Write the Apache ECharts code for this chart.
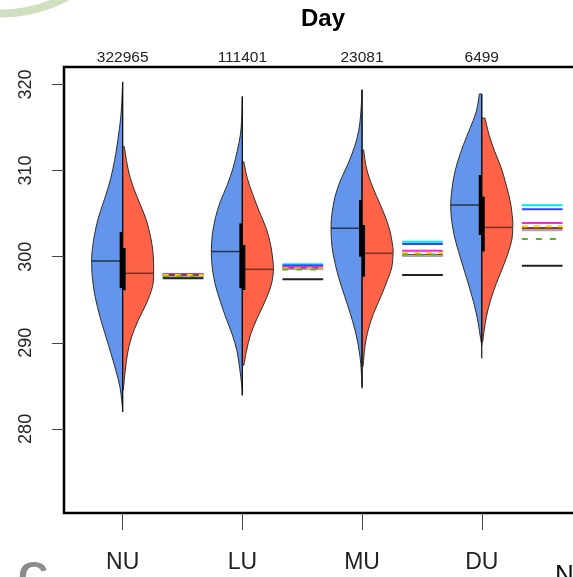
<!DOCTYPE html>
<html><head><meta charset="utf-8">
<script src="https://cdn.jsdelivr.net/npm/echarts@6/dist/echarts.min.js"></script>
<style>html,body{margin:0;padding:0;background:#fff}#c{width:573px;height:577px}</style>
</head><body><div id="c"></div><script>
// ---------- data ----------
const categories = ['NU', 'LU', 'MU', 'DU'];
const counts = ['322965', '111401', '23081', '6499'];
const yTicks = [280, 290, 300, 310, 320];

// violin outlines: [value, relative half-width]
const blueNU = [[320.3,0],[317.8,0.03],[315.9,0.07],[313.9,0.14],[312.0,0.22],[310.1,0.32],[308.1,0.46],[306.2,0.63],[304.3,0.8],[302.3,0.92],[300.4,0.99],[299.2,1.0],[297.7,0.98],[295.4,0.89],[293.0,0.73],[290.7,0.54],[288.8,0.38],[286.8,0.22],[284.9,0.09],[283.0,0.02],[282.0,0]];
const redNU = [[312.8,0.05],[310.1,0.18],[308.1,0.34],[306.2,0.55],[304.3,0.76],[302.3,0.9],[300.4,0.98],[298.1,1.0],[296.5,0.96],[294.6,0.77],[292.6,0.5],[290.7,0.29],[288.8,0.16],[286.8,0.085],[284.5,0.02]];
const blueLU = [[318.6,0],[316.1,0.02],[314.1,0.065],[312.2,0.17],[310.3,0.3],[308.3,0.49],[306.4,0.71],[304.5,0.87],[302.5,0.97],[300.6,1.0],[298.7,0.97],[296.7,0.87],[294.8,0.71],[292.8,0.52],[290.9,0.32],[289.0,0.17],[287.0,0.086],[285.1,0.02],[283.9,0]];
const redLU = [[311.0,0.05],[309.1,0.16],[307.2,0.34],[305.2,0.55],[303.3,0.77],[301.4,0.91],[299.4,0.99],[298.3,1.0],[296.7,0.93],[294.8,0.73],[292.8,0.47],[290.9,0.26],[289.0,0.13],[287.4,0.05]];
const blueMU = [[319.4,0],[316.7,0.04],[314.7,0.105],[312.8,0.24],[310.8,0.45],[308.9,0.69],[307.0,0.87],[305.0,0.97],[303.3,1.0],[301.2,0.97],[299.2,0.87],[297.3,0.73],[295.4,0.56],[293.4,0.38],[291.5,0.23],[289.6,0.116],[287.6,0.042],[285.7,0.01],[284.9,0]];
const redMU = [[312.4,0.05],[310.5,0.13],[308.9,0.255],[307.0,0.47],[305.0,0.71],[303.1,0.89],[301.2,0.99],[300.4,1.0],[298.8,0.96],[297.3,0.82],[295.4,0.61],[293.4,0.37],[291.5,0.2],[289.6,0.095],[287.2,0.03]];
const blueDU = [[318.9,0.075],[316.8,0.18],[314.9,0.38],[313.0,0.59],[311.0,0.78],[309.1,0.91],[307.2,0.98],[306.0,1.0],[304.5,0.98],[302.5,0.89],[300.6,0.75],[298.7,0.59],[296.7,0.42],[294.8,0.27],[292.8,0.14],[290.9,0.054],[289.7,0]];
const redDU = [[316.1,0.105],[314.1,0.24],[312.2,0.42],[310.3,0.63],[308.3,0.79],[306.4,0.92],[304.5,0.99],[303.3,1.0],[301.8,0.96],[299.8,0.79],[297.9,0.58],[295.9,0.37],[294.0,0.21],[292.1,0.105],[290.1,0.03]];

const blueMedians = [299.5, 300.6, 303.3, 306.0];
const redMedians = [298.07, 298.53, 300.39, 303.4];
const blueQ1 = [296.35, 296.33, 300.0, 302.52];
const blueQ3 = [302.85, 303.87, 306.6, 309.49];
const redQ1 = [296.1, 296.13, 297.68, 300.6];
const redQ3 = [301.0, 301.36, 303.68, 306.97];
const whiskerLow = [282.0, 283.9, 284.7, 288.2];
const whiskerHigh = [320.3, 318.6, 319.4, 318.9];

// reference lines beside each violin
const refCyan = [297.98, 299.12, 301.72, 305.98];
const refBlue = [297.95, 298.98, 301.48, 305.5];
const refMagenta = [297.92, 298.8, 300.68, 303.9];
const refBrown = [297.85, 298.6, 300.18, 303.3];
const refYellow = [297.88, 298.65, 300.42, 303.52];
const refGrey = [297.6, 298.55, 300.1, 303.05];
const refGreen = [297.7, 298.5, 300.25, 302.06];
const refBlack = [297.5, 297.38, 297.87, 298.95];

// ---------- drawing ----------
const FONT = "'Liberation Sans', Arial, sans-serif";
const MAXW = 0.259;
const blueProfiles = [blueNU, blueLU, blueMU, blueDU];
const redProfiles = [redNU, redLU, redMU, redDU];

function curve(pts) {
  let d = '';
  for (let i = 0; i < pts.length - 1; i++) {
    const p0 = pts[i - 1] || pts[i], p1 = pts[i], p2 = pts[i + 1], p3 = pts[i + 2] || p2;
    const c1 = [p1[0] + (p2[0] - p0[0]) / 6, p1[1] + (p2[1] - p0[1]) / 6];
    const c2 = [p2[0] - (p3[0] - p1[0]) / 6, p2[1] - (p3[1] - p1[1]) / 6];
    d += ` C${c1[0]},${c1[1]} ${c2[0]},${c2[1]} ${p2[0]},${p2[1]}`;
  }
  return d;
}
function widthAt(prof, v) {
  for (let i = 0; i < prof.length - 1; i++) {
    const a = prof[i], b = prof[i + 1];
    if (v <= a[0] && v >= b[0]) { const t = (a[0] - v) / (a[0] - b[0]); return a[1] + t * (b[1] - a[1]); }
  }
  return 0;
}
function halfViolin(api, cx, prof, side, fill) {
  const pts = prof.map(([v, w]) => api.coord([cx + side * w * MAXW, v]));
  const top = api.coord([cx, prof[0][0]]);
  const bot = api.coord([cx, prof[prof.length - 1][0]]);
  const d = `M${top[0]},${top[1]} L${pts[0][0]},${pts[0][1]}` + curve(pts) + ` L${bot[0]},${bot[1]} Z`;
  return { type: 'path', shape: { pathData: d }, style: { fill: fill, stroke: '#2b2b2b', lineWidth: 1 } };
}

function renderViolin(params, api) {
  const i = api.value(1);
  const cx = api.value(0);
  const children = [];
  children.push(halfViolin(api, cx, blueProfiles[i], -1, '#6495ED'));
  children.push(halfViolin(api, cx, redProfiles[i], 1, '#FF6347'));
  const bm = blueMedians[i], rm = redMedians[i];
  const bl = api.coord([cx - widthAt(blueProfiles[i], bm) * MAXW, bm]), bc = api.coord([cx, bm]);
  children.push({ type: 'line', shape: { x1: bl[0], y1: bl[1], x2: bc[0], y2: bc[1] }, style: { stroke: '#23334f', lineWidth: 1.5 } });
  const rr = api.coord([cx + widthAt(redProfiles[i], rm) * MAXW, rm]), rc = api.coord([cx, rm]);
  children.push({ type: 'line', shape: { x1: rc[0], y1: rc[1], x2: rr[0], y2: rr[1] }, style: { stroke: '#7d2d1e', lineWidth: 1.5 } });
  const wl = api.coord([cx, whiskerLow[i]]), wh = api.coord([cx, whiskerHigh[i]]);
  children.push({ type: 'line', shape: { x1: wl[0], y1: wl[1], x2: wh[0], y2: wh[1] }, style: { stroke: '#111', lineWidth: 1.2 } });
  const b3 = api.coord([cx, blueQ3[i]]), b1 = api.coord([cx, blueQ1[i]]);
  children.push({ type: 'rect', shape: { x: b3[0] - 3, y: b3[1], width: 3, height: b1[1] - b3[1] }, style: { fill: '#000' } });
  const r3 = api.coord([cx, redQ3[i]]), r1 = api.coord([cx, redQ1[i]]);
  children.push({ type: 'rect', shape: { x: r3[0], y: r3[1], width: 3, height: r1[1] - r3[1] }, style: { fill: '#000' } });
  return { type: 'group', children: children };
}

function refSeries(values, color, width, dash) {
  return {
    type: 'custom', silent: true, clip: true,
    data: values.map((v, i) => [i + 1, v]),
    renderItem: function (params, api) {
      const x = api.value(0), v = api.value(1);
      const a = api.coord([x + 0.335, v]), b = api.coord([x + 0.675, v]);
      return { type: 'line', shape: { x1: a[0], y1: a[1], x2: b[0], y2: b[1] },
        style: { stroke: color, lineWidth: width, lineDash: dash || null } };
    }
  };
}

const chart = echarts.init(document.getElementById('c'), null, { renderer: 'canvas' });
const ticks = [1, 2, 3, 4];
chart.setOption({
  animation: false,
  backgroundColor: '#fff',
  grid: { left: 64, top: 67, width: 538.65, height: 446, outerBoundsMode: 'none', containLabel: false,
    show: true, borderColor: '#000', borderWidth: 2.5, backgroundColor: 'transparent' },
  xAxis: [
    { type: 'value', min: 0.51, max: 5.01, position: 'bottom',
      axisLine: { show: false }, splitLine: { show: false },
      axisTick: { show: true, customValues: ticks, length: 17, lineStyle: { color: '#444', width: 1 } },
      axisLabel: { customValues: ticks, formatter: v => categories[Math.round(v) - 1], fontFamily: FONT, fontSize: 23, color: '#222', margin: 38 } },
    { type: 'value', min: 0.51, max: 5.01, position: 'top',
      axisLine: { show: false }, splitLine: { show: false }, axisTick: { show: false },
      axisLabel: { customValues: ticks, formatter: v => counts[Math.round(v) - 1], fontFamily: FONT, fontSize: 15.5, color: '#222', margin: 1 } }
  ],
  yAxis: { type: 'value', min: 270.23, max: 322.03,
    axisLine: { show: false }, splitLine: { show: false },
    axisTick: { show: true, customValues: yTicks, length: 12, lineStyle: { color: '#444', width: 1 } },
    axisLabel: { customValues: yTicks, rotate: 90, fontFamily: FONT, fontSize: 18, color: '#222', margin: 29 } },
  graphic: [
    { type: 'circle', shape: { cx: 0, cy: -130, r: 143.5 }, style: { fill: 'none', stroke: 'rgba(140,175,100,0.4)', lineWidth: 8 }, silent: true },
    { type: 'text', x: 323, y: 19, style: { text: 'Day', fontFamily: FONT, fontSize: 24, fontWeight: 'bold', fill: '#000', align: 'center', verticalAlign: 'middle' } },
    { type: 'text', x: 555, y: 563, style: { text: 'N', fontFamily: FONT, fontSize: 26, fill: '#111', align: 'left', verticalAlign: 'top' } },
    { type: 'text', x: 18, y: 558, style: { text: 'C', fontFamily: FONT, fontSize: 42, fontWeight: 'bold', fill: '#8c8c8c', align: 'left', verticalAlign: 'top' } }
  ],
  series: [
    { type: 'custom', silent: true, clip: true, xAxisIndex: 0, data: categories.map((c, i) => [i + 1, i]), renderItem: renderViolin },
    refSeries(refCyan, '#00e5ff', 2),
    refSeries(refBlue, '#3344ff', 2),
    refSeries(refMagenta, '#ff22dd', 2),
    refSeries(refBrown, '#8b3a3a', 2.5),
    refSeries(refYellow, '#ffd700', 2, [6, 6]),
    refSeries(refGrey, '#aaaaaa', 1.5),
    refSeries(refGreen, '#66aa33', 2, [6, 8]),
    refSeries(refBlack, '#222222', 2)
  ]
});
</script></body></html>
